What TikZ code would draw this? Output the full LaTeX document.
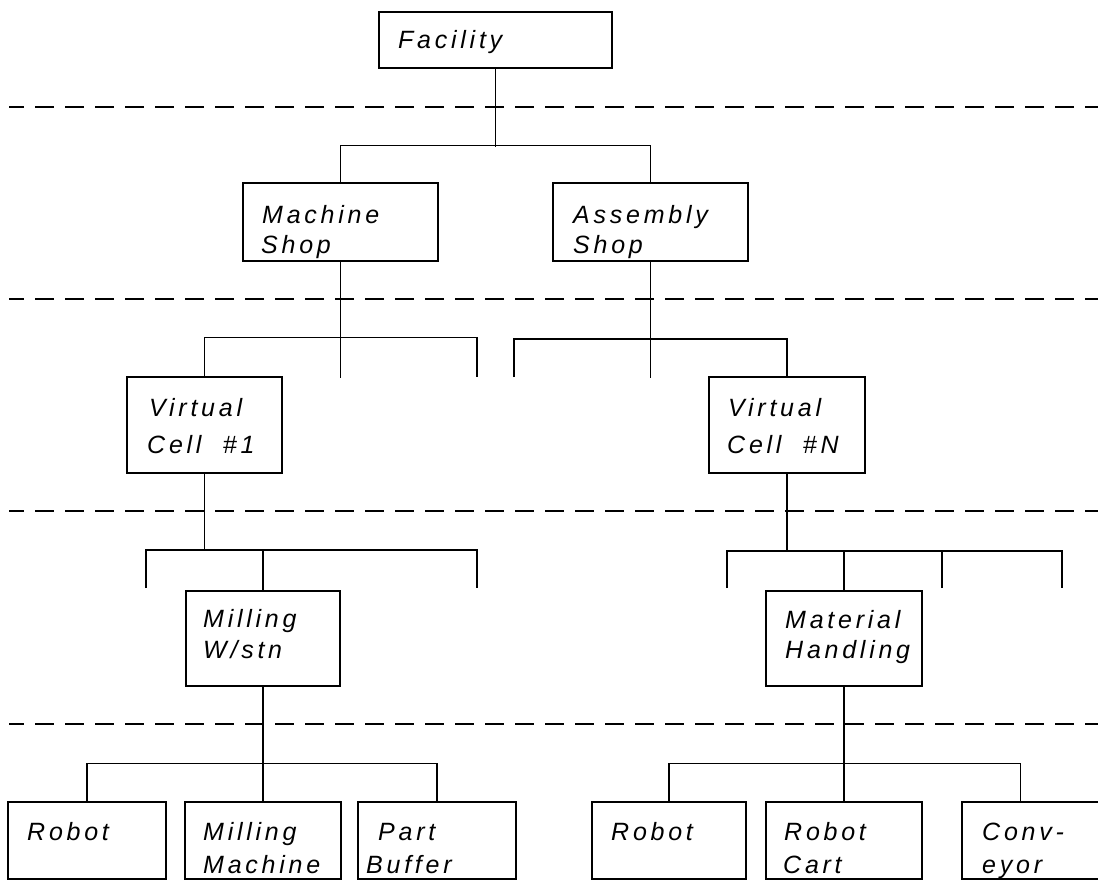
\documentclass[tikz,border=0pt]{standalone}
\usepackage{fontspec}
\newfontfamily\cadfont[LetterSpace=15]{Liberation Sans}
\begin{document}
\begin{tikzpicture}[x=1pt,y=-1pt,
  box/.style={draw, line width=1.5pt, rectangle, inner sep=0pt},
  lbl/.style={anchor=base west, inner sep=0pt, font=\cadfont\itshape\fontsize{25}{30}\selectfont},
  link/.style={line width=1.5pt},
  level/.style={line width=1.8pt, dash pattern=on 19pt off 11pt, dash phase=4pt}]
\useasboundingbox (0,0) rectangle (1098,881);

% level separators
\foreach \yy in {107,299,511,724}
  \draw[level] (9,\yy) -- (1098,\yy);

% boxes
\node[box, minimum width=233pt, minimum height=56pt] (fac) at (495.5,40) {};
\node[box, minimum width=195pt, minimum height=78pt] (ms)  at (340.5,222) {};
\node[box, minimum width=195pt, minimum height=78pt] (as)  at (650.5,222) {};
\node[box, minimum width=155pt, minimum height=96pt] (vc1) at (204.5,425) {};
\node[box, minimum width=156pt, minimum height=96pt] (vcn) at (787,425) {};
\node[box, minimum width=154pt, minimum height=95pt] (mw)  at (263,638.5) {};
\node[box, minimum width=156pt, minimum height=95pt] (mh)  at (844,638.5) {};
\node[box, minimum width=158pt, minimum height=77pt] (r1)  at (87,840.5) {};
\node[box, minimum width=156pt, minimum height=77pt] (mm)  at (263,840.5) {};
\node[box, minimum width=158pt, minimum height=77pt] (pb)  at (437,840.5) {};
\node[box, minimum width=154pt, minimum height=77pt] (r2)  at (669,840.5) {};
\node[box, minimum width=156pt, minimum height=77pt] (rc)  at (844,840.5) {};
\node[box, minimum width=155pt, minimum height=77pt] (cv)  at (1039.5,840.5) {};

% labels
\node[lbl] (fac-t)  at (398,48)  {Facility};
\node[lbl] (ms-t1)  at (262,223) {Machine};
\node[lbl] (ms-t2)  at (261,253) {Shop};
\node[lbl] (as-t1)  at (573,223) {Assembly};
\node[lbl] (as-t2)  at (573,253) {Shop};
\node[lbl] (vc1-t1) at (149,416) {Virtual};
\node[lbl] (vc1-t2) at (147,453) {Cell\ \ \#1};
\node[lbl] (vcn-t1) at (728,416) {Virtual};
\node[lbl] (vcn-t2) at (727,453) {Cell\ \ \#N};
\node[lbl] (mw-t1)  at (203,627) {Milling};
\node[lbl] (mw-t2)  at (203,658) {W/stn};
\node[lbl] (mh-t1)  at (785,628) {Material};
\node[lbl] (mh-t2)  at (785,658) {Handling};
\node[lbl] (r1-t)   at (27,840)  {Robot};
\node[lbl] (mm-t1)  at (203,840) {Milling};
\node[lbl] (mm-t2)  at (203,873) {Machine};
\node[lbl] (pb-t1)  at (378,840) {Part};
\node[lbl] (pb-t2)  at (366,873) {Buffer};
\node[lbl] (r2-t)   at (611,840) {Robot};
\node[lbl] (rc-t1)  at (784,840) {Robot};
\node[lbl] (rc-t2)  at (783,873) {Cart};
\node[lbl] (cv-t1)  at (982,840) {Conv-};
\node[lbl] (cv-t2)  at (982,873) {eyor};

% open stubs of the branch bars
\coordinate (ms-s3) at (477,377);
\coordinate (as-s1) at (514,377);
\coordinate (v1-s1) at (146,588);
\coordinate (v1-s3) at (477,588);
\coordinate (vn-s1) at (727,588);
\coordinate (vn-s3) at (942,588);
\coordinate (vn-s4) at (1062,588);

% facility -> shops
\draw[link] (fac.south) -- ++(0,78);
\draw[link] (ms.north) -- ++(0,-37) -| (as.north);

% machine shop -> cells
\draw[link] (ms.south) -- ++(0,116);
\draw[link] (vc1.north) -- ++(0,-39) -| (ms-s3);

% assembly shop -> cells
\draw[link] (as.south) -- ++(0,116);
\draw[link] (as-s1) -- ++(0,-38) -| (vcn.north);

% cell #1 -> workstations
\draw[link] (vc1.south) -- ++(0,77);
\draw[link] (v1-s1) -- ++(0,-38) -| (v1-s3);
\draw[link] (mw.north) -- ++(0,-41);

% cell #N -> workstations
\draw[link] (vcn.south) -- ++(0,78);
\draw[link] (vn-s1) -- ++(0,-37) -| (vn-s4);
\draw[link] (vn-s3) -- ++(0,-37);
\draw[link] (mh.north) -- ++(0,-40);

% milling workstation -> equipment
\draw[link] (mw.south) -- (mm.north);
\draw[link] (r1.north) -- ++(0,-38) -| (pb.north);

% material handling -> equipment
\draw[link] (mh.south) -- (rc.north);
\draw[link] (r2.north) -- ++(0,-38) -| ([xshift=59pt]cv.north west);
\end{tikzpicture}
\end{document}
